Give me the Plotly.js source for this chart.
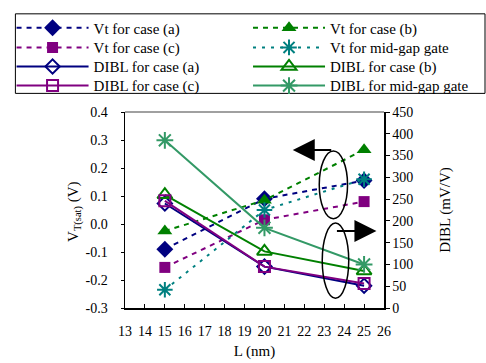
<!DOCTYPE html>
<html><head><meta charset="utf-8">
<script src="https://cdn.plot.ly/plotly-3.0.1.min.js"></script>
<style>body{margin:0;background:#fff}#c{width:486px;height:363px}</style>
</head><body><div id="c"></div>
<script>
const L = [15, 20, 25];
const vtA = [-0.09, 0.09, 0.155];
const vtB = [-0.025, 0.085, 0.265];
const vtC = [-0.155, 0.015, 0.08];
const vtMid = [-0.235, 0.05, 0.16];
const diblA = [240, 95, 51];
const diblB = [260, 130, 85];
const diblC = [246, 95, 56];
const diblMid = [385, 184, 100];
const yTickVals = [-0.3, -0.2, -0.1, 0.0, 0.1, 0.2, 0.3, 0.4];
const yTickText = ['-0.3', '-0.2', '-0.1', '0.0', '0.1', '0.2', '0.3', '0.4'];

const navy = '#000080', green = '#008000', purple = '#800080', teal = '#008080', sea = '#339966';
const dash = '5px,5px';
const traces = [
  {x: L, y: vtA, name: 'Vt for case (a)', legend: 'legend', mode: 'lines+markers', line: {color: navy, width: 2, dash: dash}, marker: {symbol: 'diamond', size: 13, color: navy}},
  {x: L, y: vtB, name: 'Vt for case (b)', legend: 'legend2', mode: 'lines+markers', line: {color: green, width: 2, dash: dash}, marker: {symbol: 'triangle-up', size: 13, color: green}},
  {x: L, y: vtC, name: 'Vt for case (c)', legend: 'legend3', mode: 'lines+markers', line: {color: purple, width: 2, dash: dash}, marker: {symbol: 'square', size: 11, color: purple}},
  {x: L, y: vtMid, name: 'Vt for mid-gap gate', legend: 'legend4', mode: 'lines+markers', line: {color: teal, width: 2, dash: '3px,6px'}, marker: {symbol: 'asterisk-open', size: 13, color: teal, line: {color: teal, width: 2}}},
  {x: L, y: diblA, name: 'DIBL for case (a)', legend: 'legend5', yaxis: 'y2', mode: 'lines+markers', line: {color: navy, width: 2}, marker: {symbol: 'diamond-open', size: 11, color: navy, line: {color: navy, width: 2}}},
  {x: L, y: diblB, name: 'DIBL for case (b)', legend: 'legend6', yaxis: 'y2', mode: 'lines+markers', line: {color: green, width: 2}, marker: {symbol: 'triangle-up-open', size: 13, color: green, line: {color: green, width: 2}}},
  {x: L, y: diblC, name: 'DIBL for case (c)', legend: 'legend7', yaxis: 'y2', mode: 'lines+markers', line: {color: purple, width: 2}, marker: {symbol: 'square-open', size: 11, color: purple, line: {color: purple, width: 2}}},
  {x: L, y: diblMid, name: 'DIBL for mid-gap gate', legend: 'legend8', yaxis: 'y2', mode: 'lines+markers', line: {color: sea, width: 2}, marker: {symbol: 'asterisk-open', size: 14, color: sea, line: {color: sea, width: 2}}}
];
const FAM = '"Times New Roman", "Liberation Serif", Times, serif';
function leg(x, y) {
  return {orientation: 'v', yanchor: 'top', xanchor: 'left', x: x, y: y,
    bgcolor: 'rgba(0,0,0,0)', borderwidth: 0, itemwidth: 72, tracegroupgap: 0,
    font: {family: FAM, color: '#000', size: 15}};
}
const colX = [-0.438, 0.475];
const rowY = [1.5125, 1.4125, 1.315, 1.2175];
const layout = {
  width: 486, height: 363,
  margin: {l: 119, r: 100, t: 108, b: 55},
  paper_bgcolor: '#fff', plot_bgcolor: '#fff',
  font: {family: FAM, color: '#000', size: 14},
  showlegend: true,
  legend: leg(colX[0], rowY[0]),
  legend2: leg(colX[1], rowY[0]),
  legend3: leg(colX[0], rowY[1]),
  legend4: leg(colX[1], rowY[1]),
  legend5: leg(colX[0], rowY[2]),
  legend6: leg(colX[1], rowY[2]),
  legend7: leg(colX[0], rowY[3]),
  legend8: leg(colX[1], rowY[3]),
  xaxis: {range: [13, 26], dtick: 1, tick0: 13, ticks: 'inside', ticklen: 4, tickcolor: '#000',
    ticklabelstandoff: 10,
    showline: true, linecolor: '#000', linewidth: 1.5, showgrid: false, zeroline: false,
    title: {text: 'L (nm)', font: {family: FAM, color: '#000', size: 15}, standoff: 7}},
  yaxis: {range: [-0.3, 0.4], tickvals: yTickVals, ticktext: yTickText, ticks: 'outside', ticklen: 3, tickcolor: '#000',
    ticklabelstandoff: 10,
    showline: true, linecolor: '#000', linewidth: 1.5, showgrid: false, zeroline: false},
  yaxis2: {overlaying: 'y', side: 'right', range: [0, 450], dtick: 50, ticks: 'outside', ticklen: 4, tickcolor: '#000',
    showline: true, linecolor: '#000', linewidth: 1.5, showgrid: false, zeroline: false,
    title: {text: 'DIBL (mV/V)', font: {family: FAM, color: '#000', size: 15}, standoff: 27}},
  shapes: [
    {type: 'rect', xref: 'paper', yref: 'paper', x0: -0.4232, x1: 1.39, y0: 1.095, y1: 1.5008, line: {color: '#000', width: 1}, fillcolor: 'rgba(0,0,0,0)'},
    {type: 'line', xref: 'paper', yref: 'paper', x0: 0, x1: 1, y0: 1, y1: 1, line: {color: '#808080', width: 1.5}},
    {type: 'circle', xref: 'x', yref: 'y', x0: 22.75, x1: 24.17, y0: 0.019, y1: 0.261, line: {color: '#000', width: 1.5}},
    {type: 'circle', xref: 'x', yref: 'y', x0: 22.9, x1: 24.23, y0: -0.265, y1: 0.004, line: {color: '#000', width: 1.5}}
  ],
  annotations: [
    {xref: 'paper', yref: 'paper', x: -0.198, y: 0.494, xanchor: 'center', yanchor: 'middle', textangle: -90,
      text: 'V<sub>T(sat)</sub> (V)', showarrow: false, font: {family: FAM, color: '#000', size: 15}},
    {xref: 'x', yref: 'y', x: 21.42, y: 0.264, ax: 40, ay: 0, text: '', showarrow: true, arrowhead: 2, arrowsize: 2.2, arrowwidth: 2, arrowcolor: '#000'},
    {xref: 'x', yref: 'y', x: 25.62, y: -0.025, ax: -41, ay: 0, text: '', showarrow: true, arrowhead: 2, arrowsize: 2.2, arrowwidth: 2, arrowcolor: '#000'}
  ]
};
Plotly.newPlot('c', traces, layout, {displayModeBar: false, staticPlot: true});
</script></body></html>
